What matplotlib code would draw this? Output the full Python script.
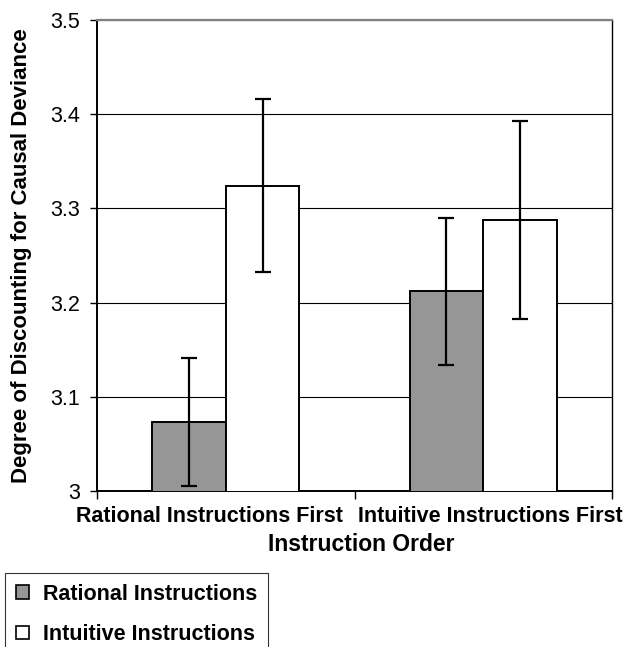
import matplotlib
matplotlib.use("Agg")
import matplotlib.pyplot as plt
import matplotlib.transforms as mtransforms
import numpy as np
from matplotlib.patches import Patch

# values
orders = ["Rational Instructions First", "Intuitive Instructions First"]
series = ["Rational Instructions", "Intuitive Instructions"]
rational_means = [3.073, 3.212]
rational_err = [0.068, 0.078]
intuitive_means = [3.324, 3.288]
intuitive_err = [0.092, 0.105]
yticks = [3, 3.1, 3.2, 3.3, 3.4, 3.5]
ytick_labels = ["3", "3.1", "3.2", "3.3", "3.4", "3.5"]

plt.rcParams["font.family"] = ["Liberation Sans", "DejaVu Sans"]

fig = plt.figure(figsize=(6.26, 6.47), dpi=100)
ax = fig.add_axes([97 / 626, 1 - 491 / 647, 515 / 626, 471 / 647])

x = np.arange(len(orders))
w = 0.286
err_kw = dict(ecolor="black", elinewidth=1.6, capsize=6, capthick=1.6)
ax.bar(x - w / 2, rational_means, w, yerr=rational_err, color="#969696",
       edgecolor="black", linewidth=1.4, zorder=3, error_kw=err_kw)
ax.bar(x + w / 2, intuitive_means, w, yerr=intuitive_err, color="white",
       edgecolor="black", linewidth=1.4, zorder=3, error_kw=err_kw)

ax.set_xlim(-0.5, 1.5)
ax.set_ylim(3, 3.5)
ax.set_yticks(yticks)
ax.set_yticklabels(ytick_labels, fontsize=15.5)
ax.set_xticks(x)
ax.set_xticklabels(orders, fontsize=15.5, fontweight="bold")
ax.set_xticks([-0.5, 0.5, 1.5], minor=True)
ax.tick_params(axis="x", which="major", length=0, pad=11)
ax.tick_params(axis="x", which="minor", length=6, width=1, direction="out")
ax.tick_params(axis="y", length=5, width=1, direction="out", pad=7)

# long category names get pushed apart so they don't run together
for lab, dx in zip(ax.get_xticklabels(), [-16, 7]):
    shift = mtransforms.ScaledTranslation(dx / 100, 0, fig.dpi_scale_trans)
    lab.set_transform(lab.get_transform() + shift)

ax.grid(axis="y", color="black", linewidth=0.8, zorder=0)
for side in ["left", "bottom"]:
    ax.spines[side].set_linewidth(1.4)
ax.spines["right"].set_linewidth(1.0)
ax.spines["top"].set_color("#808080")
ax.spines["top"].set_linewidth(1.6)

ax.set_xlabel("Instruction Order", fontsize=16.5, fontweight="bold")
ax.xaxis.set_label_coords(0.513, -0.089)
ax.set_ylabel("Degree of Discounting for Causal Deviance", fontsize=16,
              fontweight="bold")
ax.yaxis.set_label_coords(-0.126, 0.5)

handles = [Patch(facecolor="#969696", edgecolor="black", linewidth=1.2),
           Patch(facecolor="white", edgecolor="black", linewidth=1.2)]
leg = fig.legend(handles, series, loc="upper left",
                 bbox_to_anchor=(5 / 626, 1 - 573 / 647),
                 prop={"size": 15.5, "weight": "bold"}, frameon=True,
                 fancybox=False, edgecolor="black", handlelength=0.6,
                 handleheight=0.6, handletextpad=0.65, labelspacing=0.9,
                 borderpad=0.5, borderaxespad=0)
leg.get_frame().set_linewidth(0.8)

fig.savefig("out.png", dpi=100, facecolor="white")
